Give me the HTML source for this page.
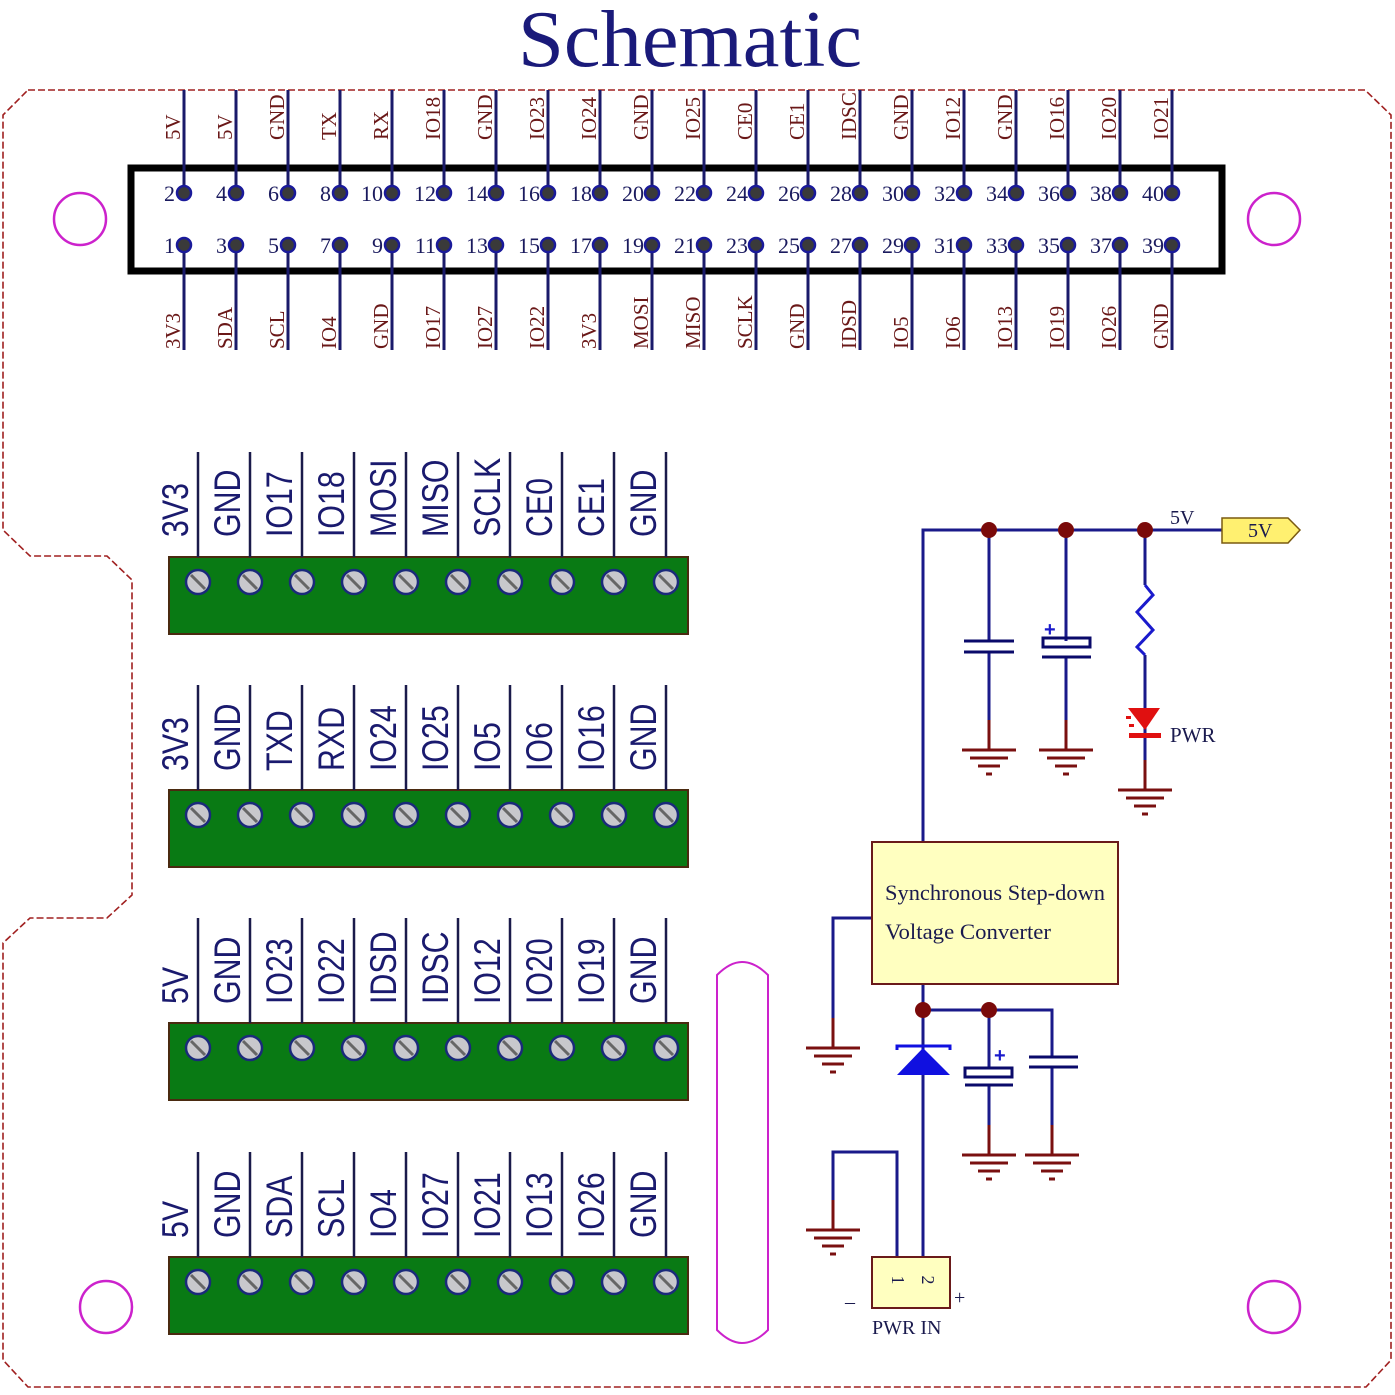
<!DOCTYPE html>
<html><head><meta charset="utf-8"><style>
html,body{margin:0;padding:0;background:#fff;width:1395px;height:1395px;overflow:hidden}
svg{display:block}
.hl{font-family:"Liberation Serif",serif;font-size:21px;fill:#6a1818}
.pn{font-family:"Liberation Serif",serif;font-size:22px;fill:#1a1a5e;text-anchor:end}
.tl{font-family:"Liberation Sans",sans-serif;font-size:37px;fill:#1a1a6e}
.sf{font-family:"Liberation Serif",serif;fill:#1a1a4e}
</style></head><body>
<svg id="s" width="1395" height="1395" viewBox="0 0 1395 1395" xmlns="http://www.w3.org/2000/svg">
<rect width="1395" height="1395" fill="#fff"/>
<text x="690" y="66" text-anchor="middle" font-family="Liberation Serif,serif" font-size="80" fill="#1a1a7a" textLength="344" lengthAdjust="spacingAndGlyphs">Schematic</text>
<path d="M28,90 L1365,90 L1391,115 L1391,1360 L1366,1387 L28,1387 L3,1360 L3,943 L30,918 L107,918 L132,895 L132,580 L107,556 L30,556 L3,530 L3,115 Z" fill="none" stroke="#a02020" stroke-width="1.6" stroke-dasharray="7,3"/>
<g fill="none" stroke="#cc22cc" stroke-width="2.5">
<circle cx="80" cy="219" r="26"/><circle cx="1274" cy="219" r="26"/>
<circle cx="106" cy="1307" r="26"/><circle cx="1274" cy="1307" r="26"/>
</g>
<path d="M717,975 Q730,962 742,962 Q755,962 768,975 L768,1330 Q755,1343 742,1343 Q730,1343 717,1330 Z" fill="none" stroke="#cc22cc" stroke-width="2"/>
<rect x="131" y="168" width="1091" height="103" fill="none" stroke="#000" stroke-width="7"/>
<g id="hdr"></g>
<g class="hl">
<text transform="translate(180,140) rotate(-90)">5V</text>
<text transform="translate(232,140) rotate(-90)">5V</text>
<text transform="translate(284,140) rotate(-90)">GND</text>
<text transform="translate(336,140) rotate(-90)">TX</text>
<text transform="translate(388,140) rotate(-90)">RX</text>
<text transform="translate(440,140) rotate(-90)">IO18</text>
<text transform="translate(492,140) rotate(-90)">GND</text>
<text transform="translate(544,140) rotate(-90)">IO23</text>
<text transform="translate(596,140) rotate(-90)">IO24</text>
<text transform="translate(648,140) rotate(-90)">GND</text>
<text transform="translate(700,140) rotate(-90)">IO25</text>
<text transform="translate(752,140) rotate(-90)">CE0</text>
<text transform="translate(804,140) rotate(-90)">CE1</text>
<text transform="translate(856,140) rotate(-90)">IDSC</text>
<text transform="translate(908,140) rotate(-90)">GND</text>
<text transform="translate(960,140) rotate(-90)">IO12</text>
<text transform="translate(1012,140) rotate(-90)">GND</text>
<text transform="translate(1064,140) rotate(-90)">IO16</text>
<text transform="translate(1116,140) rotate(-90)">IO20</text>
<text transform="translate(1168,140) rotate(-90)">IO21</text>
<text transform="translate(180,349) rotate(-90)">3V3</text>
<text transform="translate(232,349) rotate(-90)">SDA</text>
<text transform="translate(284,349) rotate(-90)">SCL</text>
<text transform="translate(336,349) rotate(-90)">IO4</text>
<text transform="translate(388,349) rotate(-90)">GND</text>
<text transform="translate(440,349) rotate(-90)">IO17</text>
<text transform="translate(492,349) rotate(-90)">IO27</text>
<text transform="translate(544,349) rotate(-90)">IO22</text>
<text transform="translate(596,349) rotate(-90)">3V3</text>
<text transform="translate(648,349) rotate(-90)">MOSI</text>
<text transform="translate(700,349) rotate(-90)">MISO</text>
<text transform="translate(752,349) rotate(-90)">SCLK</text>
<text transform="translate(804,349) rotate(-90)">GND</text>
<text transform="translate(856,349) rotate(-90)">IDSD</text>
<text transform="translate(908,349) rotate(-90)">IO5</text>
<text transform="translate(960,349) rotate(-90)">IO6</text>
<text transform="translate(1012,349) rotate(-90)">IO13</text>
<text transform="translate(1064,349) rotate(-90)">IO19</text>
<text transform="translate(1116,349) rotate(-90)">IO26</text>
<text transform="translate(1168,349) rotate(-90)">GND</text>
</g>
<g class="pn">
<text x="175" y="201">2</text><text x="227" y="201">4</text><text x="279" y="201">6</text><text x="331" y="201">8</text><text x="383" y="201">10</text><text x="436" y="201">12</text><text x="488" y="201">14</text><text x="540" y="201">16</text><text x="592" y="201">18</text><text x="644" y="201">20</text><text x="696" y="201">22</text><text x="748" y="201">24</text><text x="800" y="201">26</text><text x="852" y="201">28</text><text x="904" y="201">30</text><text x="956" y="201">32</text><text x="1008" y="201">34</text><text x="1060" y="201">36</text><text x="1112" y="201">38</text><text x="1164" y="201">40</text>
<text x="175" y="253">1</text><text x="227" y="253">3</text><text x="279" y="253">5</text><text x="331" y="253">7</text><text x="383" y="253">9</text><text x="436" y="253">11</text><text x="488" y="253">13</text><text x="540" y="253">15</text><text x="592" y="253">17</text><text x="644" y="253">19</text><text x="696" y="253">21</text><text x="748" y="253">23</text><text x="800" y="253">25</text><text x="852" y="253">27</text><text x="904" y="253">29</text><text x="956" y="253">31</text><text x="1008" y="253">33</text><text x="1060" y="253">35</text><text x="1112" y="253">37</text><text x="1164" y="253">39</text>
</g>
<g id="tb"></g>
<g class="tl">
<text transform="translate(188,537) rotate(-90) scale(0.82,1)">3V3</text>
<text transform="translate(240,537) rotate(-90) scale(0.82,1)">GND</text>
<text transform="translate(292,537) rotate(-90) scale(0.82,1)">IO17</text>
<text transform="translate(344,537) rotate(-90) scale(0.82,1)">IO18</text>
<text transform="translate(396,537) rotate(-90) scale(0.82,1)">MOSI</text>
<text transform="translate(448,537) rotate(-90) scale(0.82,1)">MISO</text>
<text transform="translate(500,537) rotate(-90) scale(0.82,1)">SCLK</text>
<text transform="translate(552,537) rotate(-90) scale(0.82,1)">CE0</text>
<text transform="translate(604,537) rotate(-90) scale(0.82,1)">CE1</text>
<text transform="translate(656,537) rotate(-90) scale(0.82,1)">GND</text>
<text transform="translate(188,771) rotate(-90) scale(0.82,1)">3V3</text>
<text transform="translate(240,771) rotate(-90) scale(0.82,1)">GND</text>
<text transform="translate(292,771) rotate(-90) scale(0.82,1)">TXD</text>
<text transform="translate(344,771) rotate(-90) scale(0.82,1)">RXD</text>
<text transform="translate(396,771) rotate(-90) scale(0.82,1)">IO24</text>
<text transform="translate(448,771) rotate(-90) scale(0.82,1)">IO25</text>
<text transform="translate(500,771) rotate(-90) scale(0.82,1)">IO5</text>
<text transform="translate(552,771) rotate(-90) scale(0.82,1)">IO6</text>
<text transform="translate(604,771) rotate(-90) scale(0.82,1)">IO16</text>
<text transform="translate(656,771) rotate(-90) scale(0.82,1)">GND</text>
<text transform="translate(188,1004) rotate(-90) scale(0.82,1)">5V</text>
<text transform="translate(240,1004) rotate(-90) scale(0.82,1)">GND</text>
<text transform="translate(292,1004) rotate(-90) scale(0.82,1)">IO23</text>
<text transform="translate(344,1004) rotate(-90) scale(0.82,1)">IO22</text>
<text transform="translate(396,1004) rotate(-90) scale(0.82,1)">IDSD</text>
<text transform="translate(448,1004) rotate(-90) scale(0.82,1)">IDSC</text>
<text transform="translate(500,1004) rotate(-90) scale(0.82,1)">IO12</text>
<text transform="translate(552,1004) rotate(-90) scale(0.82,1)">IO20</text>
<text transform="translate(604,1004) rotate(-90) scale(0.82,1)">IO19</text>
<text transform="translate(656,1004) rotate(-90) scale(0.82,1)">GND</text>
<text transform="translate(188,1238) rotate(-90) scale(0.82,1)">5V</text>
<text transform="translate(240,1238) rotate(-90) scale(0.82,1)">GND</text>
<text transform="translate(292,1238) rotate(-90) scale(0.82,1)">SDA</text>
<text transform="translate(344,1238) rotate(-90) scale(0.82,1)">SCL</text>
<text transform="translate(396,1238) rotate(-90) scale(0.82,1)">IO4</text>
<text transform="translate(448,1238) rotate(-90) scale(0.82,1)">IO27</text>
<text transform="translate(500,1238) rotate(-90) scale(0.82,1)">IO21</text>
<text transform="translate(552,1238) rotate(-90) scale(0.82,1)">IO13</text>
<text transform="translate(604,1238) rotate(-90) scale(0.82,1)">IO26</text>
<text transform="translate(656,1238) rotate(-90) scale(0.82,1)">GND</text>
</g>
<g fill="none" stroke="#1a1a8a" stroke-width="3">
<polyline points="923,842 923,530 1222,530"/>
<line x1="989" y1="530" x2="989" y2="641"/><line x1="989" y1="651" x2="989" y2="750"/>
<line x1="1066" y1="530" x2="1066" y2="641"/><line x1="1066" y1="656" x2="1066" y2="750"/>
<line x1="1145" y1="530" x2="1145" y2="585"/><line x1="1145" y1="655" x2="1145" y2="790"/>
<polyline points="872,918 833,918 833,1048"/>
<polyline points="923,984 923,1010 1052,1010 1052,1057"/>
<line x1="923" y1="1010" x2="923" y2="1257"/>
<line x1="989" y1="1010" x2="989" y2="1068"/><line x1="989" y1="1085" x2="989" y2="1155"/>
<line x1="1052" y1="1067" x2="1052" y2="1155"/>
<polyline points="897,1257 897,1152 833,1152 833,1230"/>
</g>
<g stroke="#0a0a6a" stroke-width="3">
<line x1="964" y1="641" x2="1014" y2="641"/><line x1="964" y1="652" x2="1014" y2="652"/>
<rect x="1043" y="638" width="47" height="9" fill="none"/><line x1="1042" y1="657" x2="1091" y2="657"/>
<rect x="965" y="1068" width="47" height="9" fill="none"/><line x1="965" y1="1085" x2="1013" y2="1085"/>
<line x1="1029" y1="1057" x2="1078" y2="1057"/><line x1="1029" y1="1067" x2="1078" y2="1067"/>
</g>
<g fill="#1a1acc" stroke="none" font-family="Liberation Sans,sans-serif" font-weight="bold" font-size="20">
<text x="1044" y="636">+</text><text x="994" y="1062">+</text>
</g>
<polyline points="1145,585 1153,595 1137,612 1153,630 1137,647 1145,655" fill="none" stroke="#1a1acc" stroke-width="3"/>
<polygon points="1128,708 1160,708 1145,730" fill="#e01010"/><rect x="1129" y="733" width="32" height="5" fill="#e01010"/>
<g fill="#e01010"><rect x="1126" y="716" width="5" height="3"/><rect x="1129" y="724" width="5" height="3"/></g>
<polygon points="897,1075 950,1075 923,1048" fill="#1010e0"/><polyline points="897,1050 897,1046 950,1046 950,1050" fill="none" stroke="#1010e0" stroke-width="3"/>
<g fill="#7a0a0a"><circle cx="989" cy="530" r="8"/><circle cx="1066" cy="530" r="8"/><circle cx="1145" cy="530" r="8"/><circle cx="923" cy="1010" r="8"/><circle cx="989" cy="1010" r="8"/></g>
<g id="gnd"></g>
<text x="1170" y="524" class="sf" font-size="20">5V</text>
<polygon points="1222,518 1288,518 1300,530 1288,543 1222,543" fill="#fff070" stroke="#7a5a10" stroke-width="1.5"/>
<text x="1248" y="537" class="sf" font-size="20">5V</text>
<text x="1170" y="742" class="sf" font-size="21">PWR</text>
<rect x="872" y="842" width="246" height="142" fill="#ffffc0" stroke="#6a1a1a" stroke-width="2"/>
<text x="885" y="900" class="sf" font-size="22" textLength="220" lengthAdjust="spacingAndGlyphs">Synchronous Step-down</text>
<text x="885" y="939" class="sf" font-size="22" textLength="166" lengthAdjust="spacingAndGlyphs">Voltage Converter</text>
<rect x="872" y="1257" width="78" height="51" fill="#ffffc0" stroke="#6a1a1a" stroke-width="2"/>
<text transform="translate(892,1280) rotate(90)" class="sf" font-size="18" text-anchor="middle">1</text>
<text transform="translate(922,1280) rotate(90)" class="sf" font-size="18" text-anchor="middle">2</text>
<text x="845" y="1308" class="sf" font-size="20">–</text>
<text x="954" y="1304" class="sf" font-size="20">+</text>
<text x="872" y="1334" class="sf" font-size="20">PWR IN</text>
</svg>
<script>
var NS="http://www.w3.org/2000/svg";
function el(p,t,a){var e=document.createElementNS(NS,t);for(var k in a)e.setAttribute(k,a[k]);p.appendChild(e);return e;}
var h=document.getElementById("hdr");
for(var i=0;i<20;i++){var x=184+52*i;
el(h,"line",{x1:x,y1:90,x2:x,y2:193,stroke:"#1a1a6a","stroke-width":3});
el(h,"line",{x1:x,y1:245,x2:x,y2:350,stroke:"#1a1a6a","stroke-width":3});
el(h,"circle",{cx:x,cy:193,r:7,fill:"#3a3a3a",stroke:"#1a1a9a","stroke-width":2.5});
el(h,"circle",{cx:x,cy:245,r:7,fill:"#3a3a3a",stroke:"#1a1a9a","stroke-width":2.5});}
var tb=document.getElementById("tb");
[557,790,1023,1257].forEach(function(y){
el(tb,"rect",{x:169,y:y,width:519,height:77,fill:"#097a14",stroke:"#4a2a10","stroke-width":2});
for(var k=0;k<10;k++){var x=198+52*k;
el(tb,"line",{x1:x,y1:y-105,x2:x,y2:y,stroke:"#1a1a4a","stroke-width":2.5});
el(tb,"circle",{cx:x,cy:y+25,r:12,fill:"#c8c8cc",stroke:"#1a2a7a","stroke-width":2.5});
el(tb,"line",{x1:x-7,y1:y+18,x2:x+7,y2:y+32,stroke:"#666","stroke-width":3});}});
var g=document.getElementById("gnd");
[[989,750],[1066,750],[1145,790],[833,1048],[989,1155],[1052,1155],[833,1230]].forEach(function(p){
var x=p[0],y=p[1];
el(g,"line",{x1:x,y1:y-30,x2:x,y2:y,stroke:"#7a1010","stroke-width":3});
[[27,0],[19,8],[11,16],[3,24]].forEach(function(q){el(g,"line",{x1:x-q[0],y1:y+q[1],x2:x+q[0],y2:y+q[1],stroke:"#7a1010","stroke-width":3});});});
</script>
</body></html>
